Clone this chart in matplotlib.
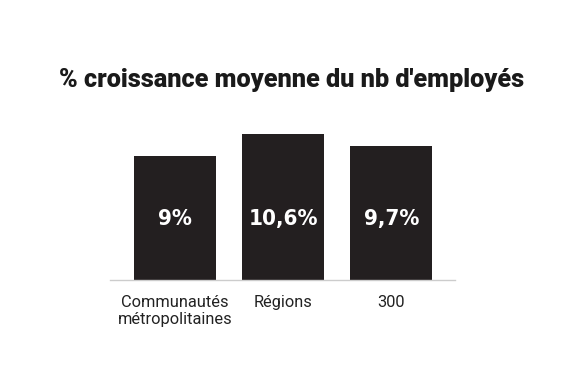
import matplotlib.pyplot as plt

categories = ['Communautés\nmétropolitaines', 'Régions', '300']
values = [9.0, 10.6, 9.7]
labels = ['9%', '10,6%', '9,7%']

fig = plt.figure(figsize=(5.7, 3.8), dpi=100)
ax = fig.add_axes([110 / 570, 1 - 280 / 380, 345 / 570, 160 / 380])

x = range(len(categories))
bars = ax.bar(x, values, width=0.76, color='#231f20')

# valeurs dans les barres
for b, lab in zip(bars, labels):
    ax.text(b.get_x() + b.get_width() / 2, 4.45, lab, ha='center', va='center',
            color='white', fontsize=16, fontweight='bold', fontstretch='condensed',
            family='DejaVu Sans')

ax.set_xlim(-0.6, 2.59)
ax.set_ylim(0, 11.62)
ax.set_xticks(list(x))
ax.set_xticklabels(categories, family='Roboto', fontsize=11.8, color='#222222',
                   linespacing=1.15)
ax.tick_params(axis='x', length=0, pad=11)
ax.set_yticks([])
for s in ['top', 'right', 'left']:
    ax.spines[s].set_visible(False)
ax.spines['bottom'].set_color('#cccccc')
ax.spines['bottom'].set_linewidth(1)

fig.text(292 / 570, 1 - 80 / 380, "% croissance moyenne du nb d'employés",
         ha='center', va='center', fontsize=18.2, fontweight='black',
         family='Roboto', color='#1a1a1a')

fig.savefig('out.png', dpi=100)
